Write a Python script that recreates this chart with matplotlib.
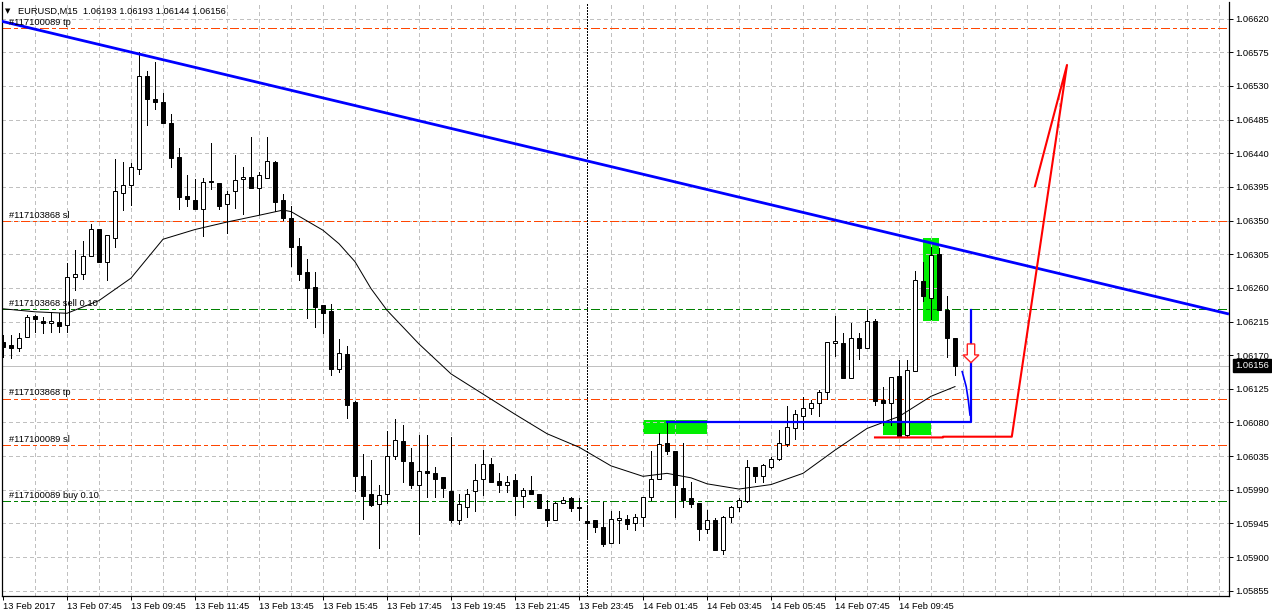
import matplotlib
matplotlib.use("Agg")
import matplotlib.pyplot as plt
from matplotlib.patches import Rectangle, Polygon
import numpy as np

plt.rcParams['font.family'] = ['Liberation Sans', 'DejaVu Sans']

# EURUSD M15 candles (bar index 0 = first bar on the chart)
opens = [1.06188, 1.06183, 1.06179, 1.06194, 1.06222, 1.06216, 1.06213, 1.06215, 1.06211, 1.06274,
         1.06279, 1.06303, 1.06339, 1.06295, 1.06327, 1.06387, 1.06398, 1.06419, 1.06543, 1.06512,
         1.06508, 1.06481, 1.06435, 1.06383, 1.06377, 1.06365, 1.06403, 1.06400, 1.06372, 1.06389,
         1.06405, 1.06408, 1.06393, 1.06407, 1.06428, 1.06377, 1.06354, 1.06316, 1.06281, 1.06261,
         1.06237, 1.06229, 1.06151, 1.06172, 1.06107, 1.06008, 1.05984, 1.05971, 1.05985, 1.06035,
         1.06055, 1.06027, 1.05997, 1.06015, 1.06012, 1.06007, 1.05988, 1.05950, 1.05967, 1.05988,
         1.06004, 1.06025, 1.06002, 1.05997, 1.06003, 1.05982, 1.05990, 1.05985, 1.05964, 1.05950,
         1.05973, 1.05979, 1.05966, 1.05948, 1.05950, 1.05940, 1.05919, 1.05949, 1.05951, 1.05945,
         1.05953, 1.05981, 1.06004, 1.06053, 1.06042, 1.05993, 1.05979, 1.05973, 1.05938, 1.05949,
         1.05909, 1.05953, 1.05967, 1.05975, 1.06020, 1.06008, 1.06021, 1.06031, 1.06051, 1.06072,
         1.06088, 1.06099, 1.06106, 1.06121, 1.06186, 1.06186, 1.06140, 1.06193, 1.06179, 1.06216,
         1.06110, 1.06106, 1.06142, 1.06063, 1.06149, 1.06269, 1.06246, 1.06305, 1.06231, 1.06193]
highs = [1.06197, 1.06197, 1.06200, 1.06224, 1.06224, 1.06221, 1.06228, 1.06226, 1.06293, 1.06310,
         1.06323, 1.06346, 1.06339, 1.06331, 1.06432, 1.06428, 1.06427, 1.06576, 1.06550, 1.06562,
         1.06521, 1.06493, 1.06447, 1.06411, 1.06406, 1.06407, 1.06454, 1.06400, 1.06390, 1.06438,
         1.06421, 1.06462, 1.06415, 1.06462, 1.06429, 1.06386, 1.06370, 1.06326, 1.06299, 1.06281,
         1.06237, 1.06239, 1.06191, 1.06182, 1.06109, 1.06038, 1.06030, 1.05996, 1.06069, 1.06085,
         1.06076, 1.06046, 1.06063, 1.06063, 1.06021, 1.06007, 1.06061, 1.05984, 1.05991, 1.06025,
         1.06043, 1.06033, 1.06012, 1.06008, 1.06011, 1.05993, 1.06008, 1.05985, 1.05976, 1.05974,
         1.05980, 1.05981, 1.05979, 1.05970, 1.05950, 1.05974, 1.05962, 1.05962, 1.05956, 1.05957,
         1.05981, 1.06042, 1.06066, 1.06081, 1.06042, 1.06052, 1.06001, 1.05973, 1.05963, 1.05952,
         1.05955, 1.05968, 1.05979, 1.06030, 1.06020, 1.06025, 1.06034, 1.06070, 1.06102, 1.06097,
         1.06114, 1.06110, 1.06123, 1.06188, 1.06223, 1.06199, 1.06213, 1.06199, 1.06231, 1.06218,
         1.06127, 1.06141, 1.06164, 1.06164, 1.06283, 1.06294, 1.06315, 1.06313, 1.06249, 1.06193]
lows = [1.06168, 1.06166, 1.06176, 1.06194, 1.06201, 1.06199, 1.06201, 1.06201, 1.06201, 1.06257,
        1.06272, 1.06303, 1.06295, 1.06271, 1.06315, 1.06364, 1.06371, 1.06412, 1.06478, 1.06499,
        1.06481, 1.06421, 1.06365, 1.06369, 1.06366, 1.06330, 1.06392, 1.06365, 1.06334, 1.06367,
        1.06359, 1.06394, 1.06359, 1.06407, 1.06363, 1.06351, 1.06289, 1.06270, 1.06220, 1.06207,
        1.06199, 1.06143, 1.06147, 1.06086, 1.05988, 1.05951, 1.05969, 1.05912, 1.05972, 1.06031,
        1.06000, 1.05992, 1.05931, 1.05981, 1.05981, 1.05981, 1.05947, 1.05944, 1.05953, 1.05962,
        1.05983, 1.06000, 1.05987, 1.05987, 1.05956, 1.05967, 1.05984, 1.05965, 1.05942, 1.05950,
        1.05973, 1.05961, 1.05949, 1.05925, 1.05934, 1.05915, 1.05919, 1.05919, 1.05937, 1.05936,
        1.05942, 1.05977, 1.06004, 1.06038, 1.05953, 1.05967, 1.05967, 1.05923, 1.05932, 1.05909,
        1.05904, 1.05947, 1.05962, 1.05974, 1.06001, 1.06000, 1.06019, 1.06030, 1.06049, 1.06058,
        1.06071, 1.06092, 1.06089, 1.06111, 1.06169, 1.06139, 1.06139, 1.06165, 1.06179, 1.06103,
        1.06077, 1.06077, 1.06060, 1.06062, 1.06149, 1.06242, 1.06218, 1.06231, 1.06168, 1.06144]
closes = [1.06181, 1.06179, 1.06193, 1.06221, 1.06218, 1.06213, 1.06216, 1.06209, 1.06274, 1.06279,
          1.06303, 1.06339, 1.06295, 1.06331, 1.06390, 1.06398, 1.06421, 1.06543, 1.06512, 1.06509,
          1.06481, 1.06434, 1.06382, 1.06379, 1.06366, 1.06401, 1.06401, 1.06370, 1.06386, 1.06404,
          1.06408, 1.06394, 1.06411, 1.06429, 1.06375, 1.06354, 1.06314, 1.06279, 1.06260, 1.06235,
          1.06227, 1.06151, 1.06173, 1.06104, 1.06008, 1.05982, 1.05970, 1.05983, 1.06035, 1.06056,
          1.06028, 1.05996, 1.06015, 1.06012, 1.06004, 1.05992, 1.05949, 1.05971, 1.05985, 1.06003,
          1.06024, 1.06001, 1.05997, 1.06001, 1.05982, 1.05990, 1.05984, 1.05965, 1.05949, 1.05973,
          1.05977, 1.05965, 1.05966, 1.05945, 1.05940, 1.05917, 1.05951, 1.05952, 1.05944, 1.05954,
          1.05980, 1.06004, 1.06051, 1.06042, 1.05996, 1.05977, 1.05971, 1.05938, 1.05949, 1.05909,
          1.05954, 1.05967, 1.05976, 1.06020, 1.06009, 1.06023, 1.06031, 1.06052, 1.06074, 1.06091,
          1.06100, 1.06106, 1.06121, 1.06187, 1.06189, 1.06139, 1.06193, 1.06180, 1.06216, 1.06109,
          1.06106, 1.06141, 1.06062, 1.06150, 1.06271, 1.06249, 1.06304, 1.06231, 1.06193, 1.06156]

# moving average, read at selected bars
ma_idx = [0, 4, 8, 12, 16, 20, 24, 28, 32, 35, 36, 40, 42, 44, 46, 48, 52, 56, 60, 64, 68, 72,
          76, 80, 83, 86, 88, 92, 96, 100, 104, 108, 112, 116, 119]
ma_val = [1.06232, 1.06228, 1.06226, 1.06243, 1.06273, 1.06325, 1.06338, 1.06348, 1.06357, 1.06364,
          1.06362, 1.06337, 1.06319, 1.06295, 1.06259, 1.06230, 1.06185, 1.06145, 1.06118, 1.06091,
          1.06065, 1.06047, 1.06022, 1.06008, 1.06012, 1.06006, 1.05998, 1.05991, 1.05997, 1.06012,
          1.06043, 1.06072, 1.06088, 1.06115, 1.06128]

price_ticks = [1.05855, 1.05900, 1.05945, 1.05990, 1.06035, 1.06080, 1.06125, 1.06170, 1.06215,
               1.06260, 1.06305, 1.06350, 1.06395, 1.06440, 1.06485, 1.06530, 1.06575, 1.06620]
date_pos = [0, 8, 16, 24, 32, 40, 48, 56, 64, 72, 80, 88, 96, 104, 112]
date_labels = ["13 Feb 2017", "13 Feb 07:45", "13 Feb 09:45", "13 Feb 11:45", "13 Feb 13:45",
               "13 Feb 15:45", "13 Feb 17:45", "13 Feb 19:45", "13 Feb 21:45", "13 Feb 23:45",
               "14 Feb 01:45", "14 Feb 03:45", "14 Feb 05:45", "14 Feb 07:45", "14 Feb 09:45"]

# order levels
order_prices = [1.06608, 1.06349, 1.06232, 1.06112, 1.06050, 1.05975]
order_labels = ["#117100089 tp", "#117103868 sl", "#117103868 sell 0.10",
                "#117103868 tp", "#117100089 sl", "#117100089 buy 0.10"]
order_colors = ['#ff4500', '#ff4500', '#008000', '#ff4500', '#ff4500', '#008000']
bid = 1.06156
day_sep = 73

# drawn objects
trend_i = [-0.375, 153.25]
trend_p = [1.06617, 1.06225]
rect_i0 = [80, 115, 110]
rect_i1 = [88, 117, 116]
rect_p0 = [1.06065, 1.06216, 1.06063]
rect_p1 = [1.06083, 1.06327, 1.06080]
blue_i = [83, 121, 121]
blue_p = [1.06081, 1.06081, 1.06231]
curve_i = [119.9, 120.4, 120.66, 120.875]
curve_p = [1.06148, 1.06128, 1.06110, 1.06090]
red_i = [109, 117.5, 117.5, 126.1, 133, 129]
red_p = [1.06060, 1.06060, 1.06061, 1.06061, 1.06558, 1.06396]
arrow_i = 121.0
arrow_p = 1.06160

W, H = 1272, 616
fig = plt.figure(figsize=(W / 100, H / 100), dpi=100)
ax = fig.add_axes([2 / W, 20 / H, 1227 / W, 594 / H])
ax.set_xlim(-0.125, 153.25)
ax.set_ylim(1.05848, 1.066422)
px_x = (153.25 + 0.125) / 1227
px_y = (1.066422 - 1.05848) / 594

# grid
for p in price_ticks:
    ax.axhline(p, color='#c0c0c0', lw=0.72, ls=(0, (3, 3)), zorder=1, antialiased=False)
for i in range(4, 153, 4):
    ax.axvline(i, color='#c0c0c0', lw=0.72, ls=(0, (3, 3)), zorder=1, antialiased=False)

# green boxes (background)
for a, b, c0, c1 in zip(rect_i0, rect_i1, rect_p0, rect_p1):
    ax.add_patch(Rectangle((a, c0), b - a, c1 - c0, facecolor='#00ee00', edgecolor='none', zorder=0.5))

# order lines
for p, col in zip(order_prices, order_colors):
    ax.axhline(p, color=col, lw=0.72, ls=(0, (9, 3, 3, 3)), zorder=2, antialiased=False)
for p, lab in zip(order_prices, order_labels):
    ax.annotate(lab, xy=(0, p), xycoords=('axes fraction', 'data'), xytext=(5.3, 4),
                textcoords='offset points', va='center', ha='left', fontsize=6.7, zorder=6)
ax.axhline(bid, color='#c0c0c0', lw=0.72, zorder=2, antialiased=False)
ax.axvline(day_sep, color='black', lw=0.72, ls=(0, (2, 2)), zorder=2, antialiased=False)

# candles
o = np.array(opens); h = np.array(highs); l = np.array(lows); c = np.array(closes)
idx = np.arange(len(o))
ax.vlines(idx, l, h, color='black', lw=0.72, zorder=3, antialiased=False)
body_lo = np.minimum(o, c)
body_h = np.maximum(np.abs(c - o), px_y * 0.8)
cols = ['white' if cc > oo else 'black' for oo, cc in zip(o, c)]
ax.bar(idx, body_h, bottom=body_lo, width=0.6, color=cols, edgecolor='black', lw=0.72, zorder=4)

# moving average
ax.plot(ma_idx, ma_val, color='black', lw=0.72, zorder=5)

# trend line and drawings
ax.plot(trend_i, trend_p, color='#0000ff', lw=2.0, zorder=5, solid_capstyle='butt')
ax.plot(blue_i, blue_p, color='#0000ff', lw=1.6, zorder=5)
ax.plot(curve_i, curve_p, color='#0000ff', lw=1.2, zorder=5)
ax.plot(red_i, red_p, color='#ff0000', lw=1.5, zorder=5)

# sell arrow (outline)
shape = [(0, 0), (8, 7.7), (3.7, 7.7), (3.7, 18.7), (-3.7, 18.7), (-3.7, 7.7), (-8, 7.7)]
verts = [(arrow_i + dx * px_x, arrow_p + dy * px_y) for dx, dy in shape]
ax.add_patch(Polygon(verts, closed=True, facecolor='white', edgecolor='#ff2020', lw=1.0, zorder=6))

# axes styling
ax.spines['top'].set_visible(False)
for s in ['left', 'right', 'bottom']:
    ax.spines[s].set_linewidth(0.9)
    ax.spines[s].set_color('black')
ax.yaxis.tick_right()
ax.set_yticks(price_ticks)
ax.set_yticklabels(['%.5f' % p for p in price_ticks])
ax.set_xticks(date_pos)
ax.set_xticklabels(date_labels, ha='left')
ax.tick_params(axis='y', direction='out', length=3, width=0.7, pad=1.5, labelsize=6.7)
ax.tick_params(axis='x', direction='out', length=3, width=0.7, pad=1.5, labelsize=6.7)

ax.annotate('%.5f' % bid, xy=(1, bid), xycoords=('axes fraction', 'data'), xytext=(4.3, 0),
            textcoords='offset points', va='center', ha='left', color='white', fontsize=6.7,
            bbox=dict(boxstyle='square,pad=0.25', fc='black', ec='black'), annotation_clip=False, zorder=10)

# header
fig.text(5 / W, 1 - 11 / H, '\u25bc', fontsize=5, va='center', ha='left', family=['DejaVu Sans'])
fig.text(18.3 / W, 1 - 11 / H, 'EURUSD,M15  1.06193 1.06193 1.06144 1.06156', fontsize=6.7,
         va='center', ha='left')

fig.savefig('out.png', dpi=100, facecolor='white')
